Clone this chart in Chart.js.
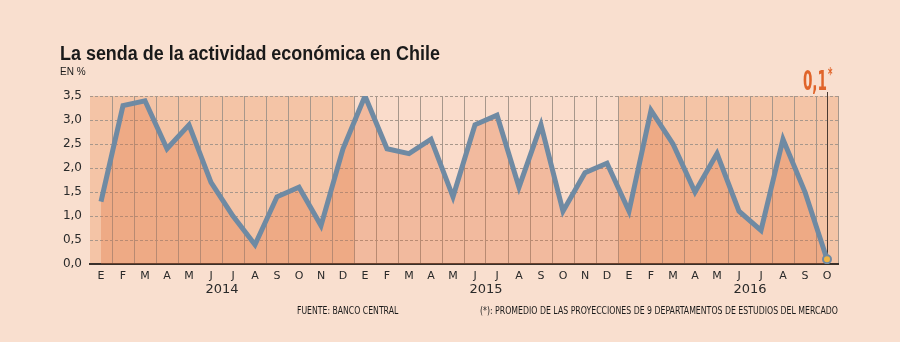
<!DOCTYPE html>
<html>
<head>
<meta charset="utf-8">
<script src="https://cdn.jsdelivr.net/npm/chart.js@4.4.0/dist/chart.umd.min.js"></script>
<style>
  body { margin: 0; background: #f9dfcf; }
  #wrap { position: relative; width: 900px; height: 342px; overflow: hidden; }
  canvas { position: absolute; left: 0; top: 0; }
  .narrow { font-family: "Liberation Sans Narrow", "DejaVu Sans Condensed", "Arial Narrow", sans-serif; color: #1a1a1a; position: absolute; white-space: nowrap; transform-origin: 0 0; }
  #title { left: 60px; top: 42px; font-family: "Liberation Sans", Arial, sans-serif; font-size: 19.5px; font-weight: bold; transform: scaleX(0.92); }
  #unit { left: 60px; top: 66px; font-family: "Liberation Sans", Arial, sans-serif; font-size: 10px; }
  #src { left: 297px; top: 305px; font-size: 10px; transform: scaleX(0.86); }
  #note { left: 480px; top: 305px; font-size: 10px; transform: scaleX(0.867); }
</style>
</head>
<body>
<div id="wrap">
  <canvas id="chart" width="900" height="342"></canvas>
  <div id="title" class="narrow">La senda de la actividad económica en Chile</div>
  <div id="unit" class="narrow">EN %</div>
  <div id="src" class="narrow">FUENTE: BANCO CENTRAL</div>
  <div id="note" class="narrow">(*): PROMEDIO DE LAS PROYECCIONES DE 9 DEPARTAMENTOS DE ESTUDIOS DEL MERCADO</div>
</div>
<script>
// months from enero 2014 to octubre 2016
const months = ['E','F','M','A','M','J','J','A','S','O','N','D',
                'E','F','M','A','M','J','J','A','S','O','N','D',
                'E','F','M','A','M','J','J','A','S','O'];
const years = ['2014', '2015', '2016'];
// imacec, var. % anual (last one = projection)
const imacec = [1.3, 3.3, 3.4, 2.4, 2.9, 1.7, 1.0, 0.4, 1.4, 1.6, 0.8, 2.4,
                3.5, 2.4, 2.3, 2.6, 1.4, 2.9, 3.1, 1.6, 2.9, 1.1, 1.9, 2.1,
                1.1, 3.2, 2.5, 1.5, 2.3, 1.1, 0.7, 2.6, 1.5, 0.1];
const yTicks = [0, 0.5, 1, 1.5, 2, 2.5, 3, 3.5];

const lastIdx = imacec.length - 1;
const fmt = v => v.toFixed(1).replace('.', ',');

// background bands per year
const bands = {
  id: 'bands',
  beforeDraw(chart) {
    const {ctx, chartArea: a, scales: {x}} = chart;
    const half = (x.getPixelForValue(1) - x.getPixelForValue(0)) / 2;
    const colors = ['#f4c4a6', '#fadccb', '#f4c4a6'];
    ctx.save();
    years.forEach((y, i) => {
      const start = i === 0 ? a.left : x.getPixelForValue(i * 12) - half;
      const end = i === years.length - 1 ? a.right : x.getPixelForValue(i * 12 + 11) + half;
      ctx.fillStyle = colors[i];
      ctx.fillRect(start, a.top, end - start, a.bottom - a.top);
    });
    ctx.restore();
  },
  afterDraw(chart) {
    const {ctx, scales: {x}} = chart;
    ctx.save();
    ctx.font = '13px "DejaVu Sans", Verdana, sans-serif';
    ctx.fillStyle = '#2a2a2a';
    ctx.textAlign = 'center';
    ctx.textBaseline = 'middle';
    years.forEach((y, i) => {
      const px = (x.getPixelForValue(i * 12 + 5) + x.getPixelForValue(i * 12 + 6)) / 2;
      ctx.fillText(y, px, 290);
    });
    ctx.restore();
  }
};

// label for the projected last value
const lastLabel = {
  id: 'lastLabel',
  beforeDatasetsDraw(chart) {
    const {ctx, chartArea: a, scales: {x, y}} = chart;
    const px = x.getPixelForValue(lastIdx);
    const py = y.getPixelForValue(imacec[lastIdx]);
    ctx.save();
    ctx.strokeStyle = '#4a3a32';
    ctx.lineWidth = 1;
    ctx.beginPath();
    ctx.moveTo(Math.round(px) + 0.5, a.top - 4);
    ctx.lineTo(Math.round(px) + 0.5, py);
    ctx.stroke();
    ctx.restore();
  },
  afterDatasetsDraw(chart) {
    const {ctx, chartArea: a, scales: {x}} = chart;
    const px = x.getPixelForValue(lastIdx);
    ctx.save();
    ctx.fillStyle = '#e0642a';
    ctx.translate(px, 0);
    ctx.scale(0.56, 1);
    ctx.textAlign = 'right';
    ctx.textBaseline = 'alphabetic';
    ctx.font = 'bold 27px "Liberation Sans Narrow", "DejaVu Sans Condensed", sans-serif';
    ctx.fillText(fmt(imacec[lastIdx]), 0, a.top - 6);
    ctx.textAlign = 'left';
    ctx.font = 'bold 17px "Liberation Sans Narrow", "DejaVu Sans Condensed", sans-serif';
    ctx.fillText('*', 2, a.top - 16);
    ctx.restore();
  }
};

new Chart(document.getElementById('chart'), {
  type: 'line',
  data: {
    labels: months,
    datasets: [{
      data: imacec,
      borderColor: '#6f8aa3',
      borderWidth: 5,
      borderJoinStyle: 'miter',
      tension: 0,
      fill: 'origin',
      backgroundColor: 'rgba(224,109,56,0.3)',
      pointRadius: ctx => ctx.dataIndex === lastIdx ? 4 : 0,
      pointBackgroundColor: '#f0b444',
      pointBorderColor: '#6f8aa3',
      pointBorderWidth: 2
    }]
  },
  options: {
    responsive: false,
    animation: false,
    devicePixelRatio: 1,
    layout: { padding: { left: 0, right: 62, top: 96, bottom: 0 } },
    plugins: { legend: { display: false }, tooltip: { enabled: false } },
    scales: {
      x: {
        offset: true,
        afterFit: s => { s.height = 78; },
        grid: {
          offset: true,
          drawTicks: false,
          color: c => (c.index === 0 || c.index === months.length) ? 'rgba(0,0,0,0)' : '#a7978b',
          lineWidth: 1
        },
        border: { display: true, color: '#3a302a', width: 2 },
        ticks: {
          autoSkip: false,
          maxRotation: 0,
          padding: 6,
          color: '#2a2a2a',
          font: { family: '"DejaVu Sans", Verdana, sans-serif', size: 11 }
        }
      },
      y: {
        min: 0,
        max: 3.5,
        afterFit: s => { s.width = 90; },
        afterBuildTicks: s => { s.ticks = yTicks.map(v => ({ value: v })); },
        grid: { color: '#a7978b', lineWidth: 1, drawTicks: false },
        border: { display: false, dash: [3, 2] },
        ticks: {
          padding: 8,
          color: '#2a2a2a',
          font: { family: '"DejaVu Sans", Verdana, sans-serif', size: 12 },
          callback: v => fmt(v)
        }
      }
    }
  },
  plugins: [bands, lastLabel]
});
</script>
</body>
</html>
